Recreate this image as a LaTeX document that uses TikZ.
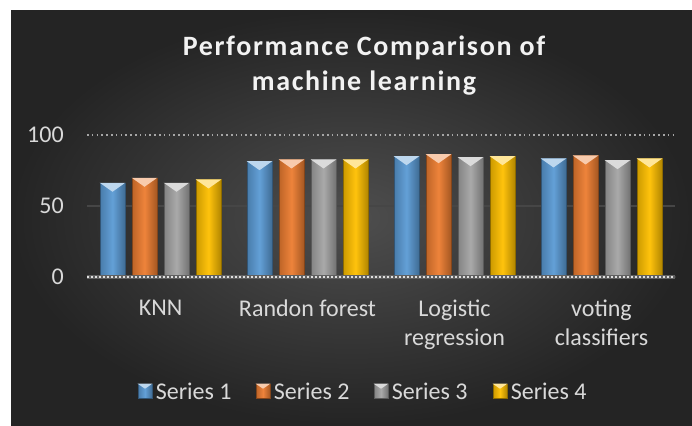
\documentclass[tikz,border=0pt]{standalone}
\usepackage{fontspec}
\setmainfont{Carlito}
\newfontfamily\titlefont[LetterSpace=6]{Carlito}
\usetikzlibrary{positioning,calc}
\definecolor{seriesA}{HTML}{5B9BD5}
\definecolor{seriesB}{HTML}{ED7D31}
\definecolor{seriesC}{HTML}{A5A5A5}
\definecolor{seriesD}{HTML}{FFC000}
\definecolor{axistext}{HTML}{D9D9D9}
\definecolor{bgin}{HTML}{4E4E4E}
\definecolor{bgout}{HTML}{242424}
\tikzset{
  bar/.style={draw=#1!55!black, line width=0.4pt,
    left color=#1!80!black, right color=#1!70!black, middle color=#1!95!white,
    minimum width=18.75pt, inner sep=0pt, anchor=south},
  legend mark/.style={bar=#1, minimum width=10.5pt, minimum height=10.5pt, anchor=center},
  tick label/.style={text=axistext, font=\fontsize{18}{21.5}\selectfont, inner sep=0pt, anchor=east},
  cat label/.style={text=axistext, font=\fontsize{18}{21.5}\selectfont, inner sep=0pt, anchor=north, align=center},
  legend text/.style={text=axistext, font=\fontsize{18}{21.5}\selectfont, inner sep=0pt, right=2.5pt of #1},
  title text/.style={text=white!95!black, font=\titlefont\bfseries\fontsize{21}{26}\selectfont, inner sep=0pt, align=center, anchor=north}
}
\begin{document}
\begin{tikzpicture}[x=0.75pt,y=-0.75pt]
    % canvas and chart area
    \useasboundingbox (0,0) rectangle (692,425);
    \fill[white] (0,0) rectangle (692,425);
    \shade[inner color=bgin, outer color=bgout] (11,10) rectangle (692,425);

    % title
    \node[title text] (title) at (364,36) {Performance Comparison of\\machine learning};

    % grid lines and value axis
    \draw[gray!70, line width=0.8pt, dash pattern=on 1.2pt off 2.4pt] (87,135) -- (675,135);
    \draw[gray!55!black, line width=0.8pt] (87,206) -- (675,206);
    \foreach \pos/\name/\val in {{(64,135)}/t100/100, {(64,206)}/t50/50, {(64,277)}/t0/0}
        \node[tick label] (\name) at \pos {\val};

    % the bars, four series per category
    \foreach \g/\va/\vb/\vc/\vd in {0/66/69.5/66/68.3, 1/81.2/82.4/82.4/82.4, 2/84.7/86.1/84/84.7, 3/83.1/85.2/81.9/83.1}
        \foreach \s/\v/\c in {0/\va/seriesA, 1/\vb/seriesB, 2/\vc/seriesC, 3/\vd/seriesD} {
            \pgfmathsetmacro\cx{160.5+147*\g+32*(\s-1.5)}
            \pgfmathsetmacro\h{1.065*\v}
            \node[bar=\c, minimum height=\h pt] (bar-\g-\s) at (\cx,277) {};
            \fill[\c!40!white] (bar-\g-\s.north west) -- (bar-\g-\s.north east) -- ($(bar-\g-\s.north)+(0,9)$) -- cycle;
        }

    % category axis
    \draw[gray!75!black, line width=3pt] (87,277) -- (675,277);
    \draw[gray!25, line width=2pt, dash pattern=on 1.2pt off 1.8pt] (87,277) -- (675,277);

    \foreach \pos/\name/\txt in {{(160.5,300)}/KNN/KNN, {(307.5,300)}/RF/Randon forest, {(454.5,300)}/LR/Logistic\\regression, {(601.5,300)}/VC/voting\\classifiers}
        \node[cat label] (\name) at \pos {\txt};

    % legend
    \foreach \pos/\name/\c in {{(145,391)}/m1/seriesA, {(263,391)}/m2/seriesB, {(381,391)}/m3/seriesC, {(500,391)}/m4/seriesD} {
        \node[legend mark=\c] (\name) at \pos {};
        \fill[\c!40!white] (\name.north west) -- (\name.north east) -- ($(\name.north)+(0,5)$) -- cycle;
    }
    \foreach \m/\txt in {m1/Series 1, m2/Series 2, m3/Series 3, m4/Series 4}
        \node[legend text=\m] (l-\m) {\txt};
\end{tikzpicture}
\end{document}
